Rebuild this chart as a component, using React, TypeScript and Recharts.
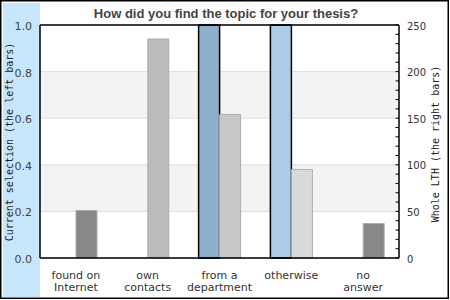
import React from 'react';
import { BarChart, Bar, XAxis, YAxis, CartesianGrid, Cell, ReferenceLine } from 'recharts';

const categories = ['found on\nInternet', 'own\ncontacts', 'from a\ndepartment', 'otherwise', 'no\nanswer'];
const currentSelection = [0, 0, 1, 1, 0];
const wholeLTH = [51, 235, 154, 95, 37];
const leftTicks = [0, 0.2, 0.4, 0.6, 0.8, 1.0];
const rightTicks = [0, 10, 20, 30, 40, 50, 60, 70, 80, 90, 100, 110, 120, 130, 140, 150, 160, 170, 180, 190, 200, 210, 220, 230, 240, 250];
const rightLabels = [0, 50, 100, 150, 200, 250];

const leftColors = ['#8eb0cc', '#8eb0cc', '#8eb0cc', '#abcde9', '#8eb0cc'];
const rightColors = ['#888888', '#bbbbbb', '#c8c8c8', '#d9d9d9', '#888888'];

const data = categories.map((c, i) => ({ cat: c, cur: currentSelection[i], whole: wholeLTH[i] }));

const CatTick = ({ x, y, payload }: any) => {
  const lines = String(payload.value).split('\n');
  return (
    <text textAnchor="middle" fill="#333" fontSize={11} fontFamily="DejaVu Sans">
      {lines.map((l, i) => (
        <tspan key={i} x={x} y={y + 13 + i * 11.5}>{l}</tspan>
      ))}
    </text>
  );
};

const LeftTick = ({ x, y, payload }: any) => (
  <text x={x} y={y + 1} dy="0.355em" textAnchor="end" fill="#444" fontSize={11} fontFamily="DejaVu Sans">
    {Number(payload.value).toFixed(1)}
  </text>
);

const RightTick = ({ x, y, payload }: any) => {
  const v = Number(payload.value);
  const ax = x - 8;
  return (
    <g>
      <line x1={ax - 3.5} x2={ax} y1={y} y2={y} stroke="#000" strokeWidth={1} />
      {rightLabels.includes(v) && (
        <text x={x} y={y + 1} dy="0.355em" textAnchor="start" fill="#333" fontSize={10} fontFamily="DejaVu Sans">
          {v}
        </text>
      )}
    </g>
  );
};

export default function App() {
  return (
    <div style={{ position: 'absolute', left: 0, top: 0, width: 450, height: 300, background: '#fff' }}>
      <svg width={450} height={300} style={{ position: 'absolute', left: 0, top: 0 }}>
        <rect x={3} y={3} width={37} height={294} fill="#c7e6fc" />
        <rect x={0.75} y={0.75} width={447.5} height={297.5} fill="none" stroke="#000" strokeWidth={1.5} />
        <text x={226} y={17.5} textAnchor="middle" fontFamily="Liberation Sans" fontWeight="bold" fontSize={13} fill="#444">
          How did you find the topic for your thesis?
        </text>
        <text x={13} y={142} transform="rotate(-90, 13, 142)" textAnchor="middle" fontFamily="DejaVu Sans Mono" fontSize={10} fill="#222">
          Current selection (the left bars)
        </text>
        <text x={439} y={144} transform="rotate(-90, 439, 144)" textAnchor="middle" fontFamily="DejaVu Sans Mono" fontSize={10} fill="#222">
          Whole LTH (the right bars)
        </text>
      </svg>
      <div style={{ position: 'absolute', left: 0, top: 0 }}>
        <BarChart width={450} height={300} data={data} margin={{ top: 25, right: 0, bottom: 0, left: 0 }} barGap={0} barSize={21}>
          <CartesianGrid yAxisId="l" vertical={false} stroke="#dddddd" horizontalFill={['#ffffff', '#f3f3f3']} fillOpacity={1} />
          <XAxis dataKey="cat" height={42} interval={0} axisLine={{ stroke: '#000', strokeWidth: 1.5 }} tickLine={false} tick={<CatTick />} />
          <YAxis yAxisId="l" width={40} domain={[0, 1]} ticks={leftTicks} interval={0} axisLine={{ stroke: '#000', strokeWidth: 1.5 }} tickLine={false} tick={<LeftTick />} />
          <YAxis yAxisId="r" orientation="right" width={51} domain={[0, 250]} ticks={rightTicks} interval={0} axisLine={{ stroke: '#000', strokeWidth: 1.5 }} tickLine={false} tick={<RightTick />} />
          <ReferenceLine yAxisId="l" y={1} stroke="#000" strokeWidth={1.5} />
          <Bar yAxisId="l" dataKey="cur" stroke="#000" strokeWidth={1.5} isAnimationActive={false}>
            {data.map((d, i) => (
              <Cell key={i} fill={leftColors[i]} />
            ))}
          </Bar>
          <Bar yAxisId="r" dataKey="whole" stroke="#adadad" strokeWidth={1} isAnimationActive={false}>
            {data.map((d, i) => (
              <Cell key={i} fill={rightColors[i]} />
            ))}
          </Bar>
        </BarChart>
      </div>
    </div>
  );
}
